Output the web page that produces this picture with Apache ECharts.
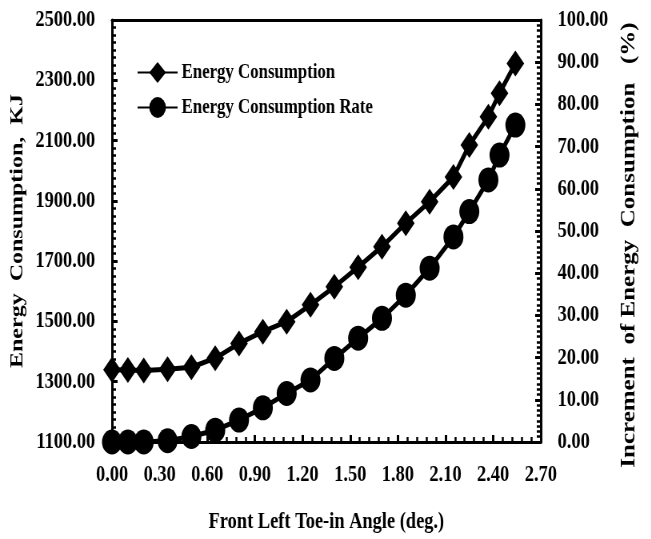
<!DOCTYPE html>
<html>
<head>
<meta charset="utf-8">
<script src="https://cdn.jsdelivr.net/npm/echarts@6/dist/echarts.min.js"></script>
<style>
  html, body { margin: 0; padding: 0; background: #fff; overflow: hidden; }
  /* the source picture is squeezed sideways, so draw wider and squeeze */
  #main { width: 814px; height: 539px; transform: scaleX(0.8); transform-origin: 0 0; }
</style>
</head>
<body>
<div id="main"></div>
<script>
var angle = [0, 0.1, 0.2, 0.35, 0.5, 0.65, 0.8, 0.95, 1.1, 1.25, 1.4, 1.55, 1.7, 1.85, 2.0, 2.15, 2.25, 2.37, 2.44, 2.54];
var energy = [1340, 1339, 1337, 1341, 1348, 1378, 1427, 1466, 1499, 1555, 1615, 1680, 1748, 1826, 1897, 1979, 2085, 2179, 2257, 2356];
var rate = [0, 0, 0, 0.3, 1.3, 2.8, 5.2, 8.1, 11.5, 14.7, 19.8, 24.6, 29.3, 34.8, 41.2, 48.6, 54.6, 62.1, 68.0, 75.1];

var seriesNames = ['Energy Consumption', 'Energy Consumption Rate'];

var font = "'Liberation Serif', 'Times New Roman', serif";

function pairs(xs, ys) {
    var out = [];
    for (var i = 0; i < xs.length; i++) {
        out.push([xs[i], ys[i]]);
    }
    return out;
}

var myChart = echarts.init(document.getElementById('main'));

var labelStyle = { color: '#000', fontFamily: font, fontWeight: 'bold', fontSize: 23 };
var nameStyle = { color: '#000', fontFamily: font, fontWeight: 'bold', fontSize: 24 };

function ticks() {
    return { show: true, interval: 0, inside: true, length: 7, lineStyle: { color: '#000', width: 3 } };
}
function minor(n) {
    return { show: true, splitNumber: n, length: 5, lineStyle: { color: '#000', width: 2.5 } };
}
function fmt(v) { return v.toFixed(2); }

var option = {
    backgroundColor: '#fff',
    animation: false,
    grid: { left: 140, right: 138, top: 20, bottom: 97 },
    legend: {
        orient: 'vertical',
        left: 166,
        top: 57,
        itemWidth: 50,
        itemHeight: 26,
        itemGap: 14,
        textStyle: { color: '#000', fontFamily: font, fontWeight: 'bold', fontSize: 21 },
        data: seriesNames
    },
    xAxis: [
        {
            type: 'value',
            min: 0, max: 2.7, interval: 0.3,
            name: 'Front Left Toe-in Angle (deg.)',
            nameLocation: 'middle',
            nameGap: 69,
            nameTextStyle: { color: '#000', fontFamily: font, fontWeight: 'bold', fontSize: 23 },
            axisLine: { show: true, onZero: false, lineStyle: { color: '#000', width: 3 } },
            axisTick: ticks(),
            minorTick: minor(5),
            splitLine: { show: false },
            axisLabel: Object.assign({ margin: 22, formatter: fmt }, labelStyle)
        },
        {
            // top frame line
            type: 'value',
            position: 'top',
            min: 0, max: 2.7,
            axisLine: { show: true, onZero: false, lineStyle: { color: '#000', width: 3 } },
            axisTick: { show: false },
            axisLabel: { show: false },
            splitLine: { show: false }
        }
    ],
    yAxis: [
        {
            type: 'value',
            min: 1100, max: 2500, interval: 200,
            name: 'Energy  Consumption,  KJ',
            nameLocation: 'middle',
            nameGap: 95,
            nameTextStyle: nameStyle,
            axisLine: { show: true, onZero: false, lineStyle: { color: '#000', width: 3 } },
            axisTick: ticks(),
            minorTick: minor(8),
            splitLine: { show: false },
            axisLabel: Object.assign({ margin: 21, formatter: fmt }, labelStyle)
        },
        {
            type: 'value',
            position: 'right',
            min: 0, max: 100, interval: 10,
            name: 'Increment  of Energy  Consumption   (%)',
            nameLocation: 'middle',
            nameGap: 98,
            nameTextStyle: Object.assign({ padding: [0, 28, 0, 0] }, nameStyle, { fontSize: 25 }),
            axisLine: { show: true, onZero: false, lineStyle: { color: '#000', width: 3 } },
            axisTick: ticks(),
            minorTick: minor(8),
            splitLine: { show: false },
            axisLabel: Object.assign({ margin: 21, formatter: fmt }, labelStyle)
        }
    ],
    series: [
        {
            name: seriesNames[0],
            type: 'line',
            yAxisIndex: 0,
            data: pairs(angle, energy),
            symbol: 'diamond',
            symbolSize: [22, 26],
            clip: false,
            lineStyle: { color: '#000', width: 5 },
            itemStyle: { color: '#000' }
        },
        {
            name: seriesNames[1],
            type: 'line',
            yAxisIndex: 1,
            data: pairs(angle, rate),
            symbol: 'circle',
            symbolSize: 25,
            clip: false,
            lineStyle: { color: '#000', width: 5 },
            itemStyle: { color: '#000' }
        }
    ]
};

myChart.setOption(option);
</script>
</body>
</html>
